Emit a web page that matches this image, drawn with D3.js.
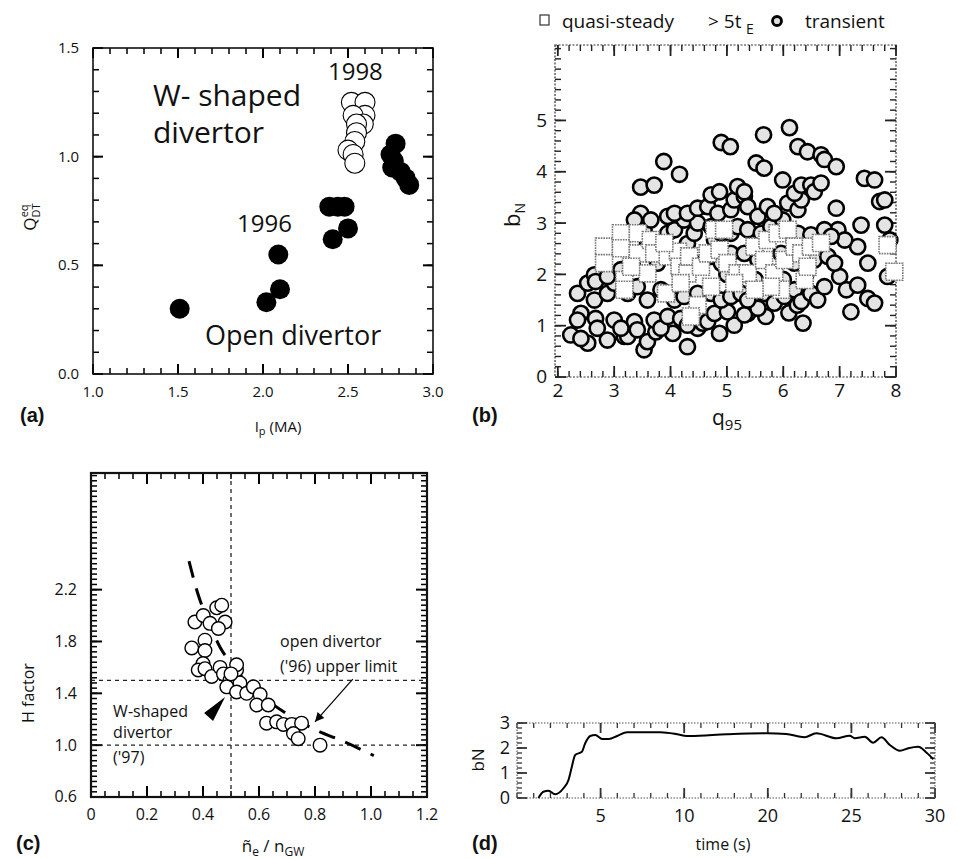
<!DOCTYPE html>
<html><head><meta charset="utf-8">
<script src="https://cdn.jsdelivr.net/npm/d3@7"></script>
<style>
body{margin:0;background:#fff;}
svg{display:block;}
</style></head><body>
<svg id="fig" width="958" height="859"></svg>
<script>
// ---------- (a) Q_DT^eq versus plasma current ----------
const openIp = [1.51, 2.02, 2.10, 2.09, 2.41, 2.50, 2.39, 2.44, 2.48, 2.78, 2.75, 2.77, 2.76, 2.81, 2.84, 2.86];
const openQ  = [0.30, 0.33, 0.39, 0.55, 0.62, 0.67, 0.77, 0.77, 0.77, 1.06, 1.01, 0.98, 0.95, 0.93, 0.90, 0.87];
const wIp = [2.52, 2.60, 2.60, 2.53, 2.59, 2.55, 2.55, 2.54, 2.50, 2.53, 2.54];
const wQ  = [1.25, 1.25, 1.19, 1.19, 1.15, 1.15, 1.11, 1.07, 1.03, 1.01, 0.97];
const ipTicks = [1.0, 1.5, 2.0, 2.5, 3.0];
const qTicks = [0.0, 0.5, 1.0, 1.5];

// ---------- (b) normalised beta versus q95 ----------
const transientPts = [
  [6.11,4.86],[5.65,4.72],[4.90,4.57],[5.06,4.49],[3.88,4.20],[4.16,3.95],[3.47,3.70],[3.71,3.74],
  [5.52,4.17],[5.66,4.07],[5.99,3.84],[6.26,4.49],[6.43,4.39],[6.67,4.33],[6.73,4.24],[6.94,4.10],
  [7.44,3.87],[7.62,3.84],[6.94,3.29],[7.71,3.42],[7.80,3.45],[7.38,2.96],[7.80,2.96],[7.89,2.67],
  [7.50,2.22],[7.32,2.54],[6.97,2.87],[7.09,2.67],[7.00,1.96],[7.12,1.70],[7.20,1.27],[7.32,1.79],
  [7.50,1.53],[7.62,1.44],[6.35,1.05],[5.69,1.18],[4.30,0.59],[3.53,0.53],[2.23,0.82],[2.53,0.66],
  [2.88,0.72],[3.18,0.79],[7.85,1.96],
  [2.41,0.75],[3.24,0.79],[3.59,0.69],[3.74,0.88],[4.04,0.85],[4.48,0.95],[4.57,1.05],[4.87,0.85],
  [5.13,1.01],[5.37,1.24],
  [2.41,1.24],[2.35,1.11],[2.67,1.14],[2.70,0.95],[3.00,1.11],[3.12,0.95],[3.36,1.08],[3.41,0.92],
  [3.71,1.11],[3.83,0.95],[3.95,1.18],[4.18,1.14],[4.30,1.01],[4.48,1.18],[4.66,1.08],[4.78,1.24],
  [5.01,1.27],[5.31,1.21],[5.55,1.34],[6.10,1.25],[6.25,1.40],
  [2.35,1.63],[2.53,1.83],[2.65,1.50],[2.88,1.63],[3.00,1.83],[3.24,1.63],[3.41,1.76],[3.59,1.50],
  [3.83,1.70],[4.07,1.50],[4.24,1.57],[4.48,1.63],[4.72,1.63],[4.90,1.50],[5.07,1.57],[5.25,1.63],
  [5.37,1.50],[5.66,1.63],[5.84,1.44],[6.02,1.57],[6.20,1.70],[6.32,1.47],[6.49,1.63],[6.61,1.50],
  [6.73,1.76],
  [2.65,1.99],[2.67,1.86],[2.88,1.96],[3.12,2.09],[3.33,2.15],[3.77,2.22],[4.18,2.28],[4.42,2.22],
  [4.72,2.35],[4.90,2.22],[5.07,2.41],[5.31,2.41],[5.55,2.28],[5.96,2.41],[6.20,2.22],[6.55,2.28],
  [6.79,2.35],[6.91,2.22],[3.90,2.40],[4.30,2.60],[5.00,2.00],[5.50,1.90],[6.00,1.90],[6.40,2.00],
  [3.30,2.80],[3.41,3.00],[3.53,2.87],[3.59,2.57],[3.71,2.67],[3.95,2.80],[4.07,2.87],[4.24,3.06],
  [4.42,2.80],[4.48,3.00],[4.72,2.93],[4.78,2.67],[4.90,2.80],[5.07,2.80],[5.19,2.93],[5.37,2.87],
  [5.61,2.80],[5.78,2.93],[5.99,3.06],[6.26,2.80],[6.49,2.77],[6.73,2.87],[6.85,2.74],
  [3.47,3.19],[3.36,3.06],[3.65,3.06],[3.95,3.13],[4.07,3.19],[4.30,3.19],[4.48,3.29],[4.66,3.32],
  [4.84,3.19],[5.07,3.26],[5.13,3.45],[5.31,3.52],[5.37,3.32],[5.55,3.13],[5.72,3.32],[5.84,3.19],
  [6.08,3.39],[6.26,3.26],[6.32,3.45],
  [4.72,3.55],[4.87,3.61],[5.19,3.71],[5.31,3.61],[6.20,3.58],[6.32,3.74],[6.49,3.74],[6.55,3.61],
  [6.67,3.78]
];
const steadyPts = [
  [2.82,2.54],[2.82,2.22],[3.12,2.80],[3.12,2.51],[3.18,1.89],[3.18,1.70],[3.42,2.41],[3.42,2.80],
  [3.59,2.02],[3.65,2.67],[3.71,2.41],[3.92,1.63],[3.95,2.35],[4.13,2.44],[4.16,2.15],[4.30,2.02],
  [4.33,2.35],[4.48,1.40],[4.36,1.18],[4.54,2.15],[4.66,2.41],[4.78,2.87],[4.95,2.87],[4.87,2.48],
  [5.01,2.22],[5.19,2.02],[5.37,2.02],[5.49,2.54],[5.66,2.28],[5.72,2.67],[5.84,2.02],[5.90,2.80],
  [6.02,2.28],[6.08,2.87],[6.20,2.54],[6.32,2.41],[6.38,1.89],[6.43,2.15],[6.49,2.54],[6.67,2.61],
  [5.96,1.70],[5.78,1.76],[3.30,2.15],[3.89,2.61],[4.18,1.83],[4.72,1.76],[5.13,1.83],[5.49,1.70],
  [7.85,2.57],[7.97,2.05]
];
const q95Ticks = [2, 3, 4, 5, 6, 7, 8];
const betaTicks = [0, 1, 2, 3, 4, 5];

// ---------- (c) H factor versus Greenwald fraction ----------
const nRatio  = [0.371,0.401,0.425,0.449,0.467,0.479,0.455,0.407,0.360,0.407,0.400,0.383,0.407,0.431,0.461,0.473,0.496,0.485,0.520,0.532,0.520,0.556,0.580,0.604,0.592,0.633,0.627,0.663,0.687,0.717,0.752,0.723,0.740,0.818,0.520,0.500];
const hFactor = [1.95,2.00,1.94,2.06,2.08,1.95,1.90,1.81,1.75,1.73,1.63,1.58,1.59,1.53,1.60,1.55,1.50,1.45,1.58,1.48,1.41,1.40,1.45,1.39,1.31,1.31,1.17,1.18,1.16,1.16,1.17,1.09,1.05,1.00,1.62,1.55];
const fitN = [0.35, 0.38, 0.42, 0.46, 0.50, 0.55, 0.60, 0.70, 0.80, 0.90, 1.01];
const fitH = [2.42, 2.18, 1.95, 1.76, 1.63, 1.50, 1.40, 1.24, 1.12, 1.03, 0.92];
const nTicks = [0, 0.2, 0.4, 0.6, 0.8, 1.0, 1.2];
const nTickLabels = ["0", "0.2", "0.4", "0.6", "0.8", "1.0", "1.2"];
const hTicks = [0.6, 1.0, 1.4, 1.8, 2.2];

// ---------- (d) bN time trace ----------
const timeS = [1.28,1.58,1.88,2.28,2.78,3.08,3.28,3.48,3.88,4.08,4.38,4.68,5.10,5.50,5.99,6.59,7.59,8.58,9.58,10.3,10.7,15.1,19.9,21.1,22.2,22.9,24.1,24.9,25.2,25.8,26.3,26.8,27.3,27.9,28.4,29.0,29.5,29.9];
const bNtrace = [0.00,0.25,0.29,0.15,0.39,0.72,1.25,1.72,1.85,2.19,2.48,2.52,2.36,2.36,2.48,2.63,2.63,2.63,2.55,2.48,2.48,2.55,2.59,2.56,2.43,2.59,2.39,2.49,2.39,2.45,2.21,2.43,2.12,1.89,1.99,2.05,1.81,1.55];
const timeKnots = [0, 5, 10, 20, 25, 30];
const timeTicks = [5, 10, 20, 25, 30];
const bNTicks = [0, 1, 2, 3];

const FONT = "'Open Sans', 'DejaVu Sans', sans-serif";
const svg = d3.select("#fig");

// Box with inward tick bars on all four sides; labels on bottom and left
function frame(g, x, y, o) {
  const xr = x.range(), yr = y.range();
  const l = xr[0], r = xr[xr.length - 1], b = yr[0], t = yr[1];
  const col = o.tickColor || "#000";
  const tg = g.append("g").attr("fill", col);
  const bar = (rx, ry, rw, rh) => tg.append("rect").attr("x", rx).attr("y", ry)
    .attr("width", rw).attr("height", rh);
  const sides = (xv, yv, len, w) => {
    xv.forEach(v => {
      const p = x(v);
      bar(p - w / 2, b - len, w, len);
      bar(p - w / 2, t, w, len);
    });
    yv.forEach(v => {
      const p = y(v);
      bar(l, p - w / 2, len, w);
      bar(r - len, p - w / 2, len, w);
    });
  };
  sides(o.xMinor, o.yMinor, o.minLen, o.minWidth || 1.4);
  sides(o.xMajor, o.yMajor, o.majLen, o.majWidth || 2);
  g.append("g").selectAll("text").data(o.xMajor).join("text")
    .attr("x", d => x(d)).attr("y", b + o.xPad).attr("dy", "0.71em").attr("text-anchor", "middle")
    .attr("font-family", FONT).attr("font-size", o.fontSize).attr("fill", "#111")
    .text((d, i) => o.xFmt(d, i));
  g.append("g").selectAll("text").data(o.yMajor).join("text")
    .attr("x", l - o.yPad).attr("y", d => y(d)).attr("dy", "0.34em").attr("text-anchor", "end")
    .attr("font-family", FONT).attr("font-size", o.fontSize).attr("fill", "#111")
    .text((d, i) => o.yFmt(d, i));
  g.append("rect").attr("x", l).attr("y", t).attr("width", r - l).attr("height", b - t)
    .attr("fill", "none").attr("stroke", o.boxColor || "#111").attr("stroke-width", o.boxWidth || 1.5)
    .attr("stroke-dasharray", o.boxDash || null);
}

function panelTag(txt, x, y) {
  svg.append("text").attr("x", x).attr("y", y).text(txt)
    .attr("font-family", "'Liberation Sans', Arial, sans-serif").attr("font-weight", "bold")
    .attr("font-size", 20).attr("fill", "#111");
}

// ================= (a) =================
{
  const g = svg.append("g");
  const x = d3.scaleLinear().domain([1.0, 3.0]).range([93, 433]);
  const y = d3.scaleLinear().domain([0, 1.5]).range([374, 48]);
  frame(g, x, y, {
    xMajor: ipTicks, xMinor: d3.range(1.0, 3.001, 0.1), yMajor: qTicks, yMinor: d3.range(0, 1.501, 0.1),
    xFmt: d3.format(".1f"), yFmt: d3.format(".1f"), majLen: 10, minLen: 6, xPad: 12, yPad: 14,
    fontSize: 15, boxWidth: 1.6, minWidth: 1.5, majWidth: 2
  });
  g.selectAll("circle.open").data(d3.zip(openIp, openQ)).join("circle")
    .attr("cx", d => x(d[0])).attr("cy", d => y(d[1])).attr("r", 10).attr("fill", "#000");
  g.selectAll("circle.w").data(d3.zip(wIp, wQ)).join("circle")
    .attr("cx", d => x(d[0])).attr("cy", d => y(d[1])).attr("r", 10)
    .attr("fill", "#fff").attr("stroke", "#000").attr("stroke-width", 1.1);
  const ann = (t, xv, yv, fs) => g.append("text").attr("x", x(xv)).attr("y", y(yv)).text(t)
    .attr("font-family", FONT).attr("font-size", fs).attr("fill", "#111");
  ann("1998", 2.382, 1.353, 24);
  ann("W- shaped", 1.353, 1.233, 30);
  ann("divertor", 1.353, 1.063, 30);
  ann("1996", 1.847, 0.653, 24);
  ann("Open divertor", 1.659, 0.133, 27);
  const yl = g.append("text").attr("transform", `translate(36,${(48 + 374) / 2 + 6}) rotate(-90)`)
    .attr("text-anchor", "middle").attr("font-family", FONT).attr("font-size", 17).attr("fill", "#111");
  yl.append("tspan").text("Q");
  yl.append("tspan").text("DT").attr("font-size", 11).attr("dy", 4);
  yl.append("tspan").text("eq").attr("font-size", 11).attr("dy", -12).attr("dx", -14);
  const xl = g.append("text").attr("x", 278).attr("y", 432).attr("text-anchor", "middle")
    .attr("font-family", FONT).attr("font-size", 15).attr("fill", "#111");
  xl.append("tspan").text("I");
  xl.append("tspan").text("p").attr("font-size", 11).attr("dy", 3);
  xl.append("tspan").text(" (MA)").attr("dy", -3);
  panelTag("(a)", 20, 422);
}

// ================= (b) =================
{
  const g = svg.append("g");
  const x = d3.scaleLinear().domain([1.95, 8.0]).range([555, 896]);
  const y = d3.scaleLinear().domain([0, 6.47]).range([377, 45]);
  frame(g, x, y, {
    xMajor: q95Ticks, xMinor: d3.range(2.0, 8.001, 0.2), yMajor: betaTicks, yMinor: d3.range(0, 6.41, 0.2),
    xFmt: d3.format("d"), yFmt: d3.format("d"), majLen: 11, minLen: 6, xPad: 7, yPad: 8,
    fontSize: 19, boxColor: "#333", boxWidth: 1.2, boxDash: "2,1.5", tickColor: "#222",
    minWidth: 1.4, majWidth: 1.8
  });
  g.selectAll("circle.t").data(transientPts).join("circle")
    .attr("cx", d => x(d[0])).attr("cy", d => y(d[1])).attr("r", 7.6)
    .attr("fill", "#e4e4e4").attr("stroke", "#000").attr("stroke-width", 2.6);
  const sq = 17;
  g.selectAll("rect.s").data(steadyPts).join("rect")
    .attr("x", d => x(d[0]) - sq / 2).attr("y", d => y(d[1]) - sq / 2).attr("width", sq).attr("height", sq)
    .attr("fill", "#fff").attr("stroke", "#777").attr("stroke-width", 1.6).attr("stroke-dasharray", "1.6,1");
  // legend
  g.append("rect").attr("x", 540).attr("y", 15).attr("width", 9).attr("height", 10)
    .attr("fill", "#fff").attr("stroke", "#333").attr("stroke-width", 1.2);
  const lt = (t, xp, fs, yp) => g.append("text").attr("x", xp).attr("y", yp || 28).text(t)
    .attr("font-family", FONT).attr("font-size", fs).attr("fill", "#111");
  lt("quasi-steady", 562, 19);
  lt("> 5t", 708, 19);
  lt("E", 746, 14, 34);
  g.append("circle").attr("cx", 777).attr("cy", 21).attr("r", 4.5)
    .attr("fill", "#ddd").attr("stroke", "#000").attr("stroke-width", 2.8);
  lt("transient", 805, 19);
  const yl = g.append("text").attr("transform", `translate(520,${(45 + 377) / 2 + 4}) rotate(-90)`)
    .attr("text-anchor", "middle").attr("font-family", FONT).attr("font-size", 22).attr("fill", "#111");
  yl.append("tspan").text("b");
  yl.append("tspan").text("N").attr("font-size", 14).attr("dy", 5);
  const xl = g.append("text").attr("x", 727).attr("y", 425).attr("text-anchor", "middle")
    .attr("font-family", FONT).attr("font-size", 21).attr("fill", "#111");
  xl.append("tspan").text("q");
  xl.append("tspan").text("95").attr("font-size", 15).attr("dy", 5);
  panelTag("(b)", 472, 422);
}

// ================= (c) =================
{
  const g = svg.append("g");
  const x = d3.scaleLinear().domain([0, 1.2]).range([91, 427]);
  const y = d3.scaleLinear().domain([0.6, 3.1]).range([797, 473]);
  frame(g, x, y, {
    xMajor: nTicks, xMinor: d3.range(0, 1.201, 0.05), yMajor: hTicks, yMinor: d3.range(0.6, 3.1, 0.04),
    xFmt: (d, i) => nTickLabels[i], yFmt: d3.format(".1f"), majLen: 11, minLen: 6, xPad: 12, yPad: 14,
    fontSize: 16, boxWidth: 2.2, minWidth: 1.5, majWidth: 2
  });
  const dashLine = (x1, y1, x2, y2) => g.append("line").attr("x1", x1).attr("y1", y1)
    .attr("x2", x2).attr("y2", y2).attr("stroke", "#222").attr("stroke-width", 1.3)
    .attr("stroke-dasharray", "4,4");
  [1.5, 1.0].forEach(h => dashLine(x(0), y(h), x(1.2), y(h)));
  dashLine(x(0.5), y(0.6), x(0.5), y(3.1));
  // fitted trend
  g.append("path").datum(d3.zip(fitN, fitH))
    .attr("d", d3.line().x(d => x(d[0])).y(d => y(d[1])).curve(d3.curveMonotoneX))
    .attr("fill", "none").attr("stroke", "#000").attr("stroke-width", 3).attr("stroke-dasharray", "17,11");
  g.selectAll("circle.h").data(d3.zip(nRatio, hFactor)).join("circle")
    .attr("cx", d => x(d[0])).attr("cy", d => y(d[1])).attr("r", 6.8)
    .attr("fill", "#fff").attr("stroke", "#000").attr("stroke-width", 1.4);
  const ann = (t, xv, yv) => g.append("text").attr("x", x(xv)).attr("y", y(yv)).text(t)
    .attr("font-family", FONT).attr("font-size", 16).attr("fill", "#111");
  ann("open  divertor", 0.675, 1.757);
  ann("('96) upper limit", 0.675, 1.565);
  ann("W-shaped", 0.079, 1.217);
  ann("divertor", 0.079, 1.055);
  ann("('97)", 0.079, 0.862);
  // wedge pointer for the W-shaped divertor points
  const wedge = [[0.404, 1.248], [0.479, 1.372], [0.436, 1.186]];
  g.append("path").attr("d", d3.line().x(d => x(d[0])).y(d => y(d[1]))(wedge) + "Z").attr("fill", "#000");
  // arrow for the open-divertor limit
  g.append("defs").append("marker").attr("id", "headSmall").attr("viewBox", "0 0 10 10")
    .attr("refX", 10).attr("refY", 5).attr("markerWidth", 16).attr("markerHeight", 9)
    .attr("markerUnits", "userSpaceOnUse").attr("orient", "auto")
    .append("path").attr("d", "M0,0L10,5L0,10z").attr("fill", "#000");
  g.append("line").attr("x1", x(0.935)).attr("y1", y(1.51)).attr("x2", x(0.80)).attr("y2", y(1.18))
    .attr("stroke", "#000").attr("stroke-width", 1.2).attr("marker-end", "url(#headSmall)");
  g.append("text").attr("transform", `translate(34,693) rotate(-90)`)
    .attr("text-anchor", "middle").attr("font-family", FONT).attr("font-size", 16).attr("fill", "#111")
    .text("H factor");
  const xl = g.append("text").attr("x", 273).attr("y", 852).attr("text-anchor", "middle")
    .attr("font-family", FONT).attr("font-size", 17).attr("fill", "#111");
  xl.append("tspan").text("n\u0303");
  xl.append("tspan").text("e").attr("font-size", 12).attr("dy", 4);
  xl.append("tspan").text(" / n").attr("dy", -4);
  xl.append("tspan").text("GW").attr("font-size", 12).attr("dy", 4);
  panelTag("(c)", 16, 850);
}

// ================= (d) =================
{
  const g = svg.append("g");
  const x0 = 517, x1 = 935;
  const x = d3.scaleLinear().domain(timeKnots)
    .range(timeKnots.map((_, i) => x0 + i * (x1 - x0) / (timeKnots.length - 1)));
  const y = d3.scaleLinear().domain([0, 3]).range([798, 723]);
  const minorT = d3.range(0, 10, 1).concat(d3.range(10, 20, 2), d3.range(20, 30.01, 1));
  frame(g, x, y, {
    xMajor: timeTicks, xMinor: minorT, yMajor: bNTicks, yMinor: d3.range(0, 3.01, 0.2),
    xFmt: d3.format("d"), yFmt: d3.format("d"), majLen: 10, minLen: 5, xPad: 11, yPad: 7,
    fontSize: 18, boxColor: "#555", boxWidth: 1.1, boxDash: "1.5,1.5", tickColor: "#333",
    minWidth: 1.3, majWidth: 1.8
  });
  g.append("path").datum(d3.zip(timeS, bNtrace))
    .attr("d", d3.line().x(d => x(d[0])).y(d => y(d[1])).curve(d3.curveMonotoneX))
    .attr("fill", "none").attr("stroke", "#000").attr("stroke-width", 2);
  g.append("text").attr("transform", `translate(484,760) rotate(-90)`).attr("text-anchor", "middle")
    .attr("font-family", FONT).attr("font-size", 17).attr("fill", "#111").text("bN");
  g.append("text").attr("x", 723).attr("y", 850).attr("text-anchor", "middle")
    .attr("font-family", FONT).attr("font-size", 16).attr("fill", "#111").text("time  (s)");
  panelTag("(d)", 472, 850);
}
</script>
</body></html>
